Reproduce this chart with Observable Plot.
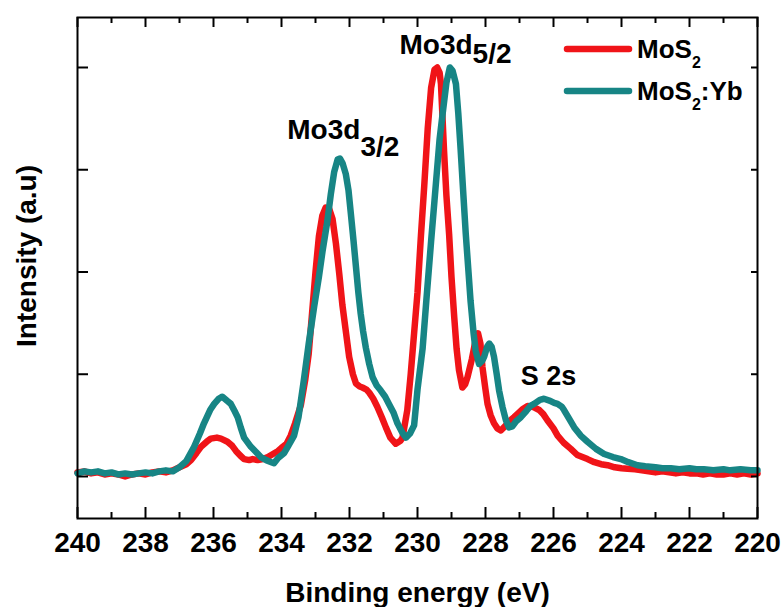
<!DOCTYPE html>
<html>
<head>
<meta charset="utf-8">
<script src="https://cdn.jsdelivr.net/npm/d3@7"></script>
<script src="https://cdn.jsdelivr.net/npm/@observablehq/plot@0.6"></script>
<style>
  html, body { margin: 0; padding: 0; background: #fff; }
  #chart { position: relative; width: 783px; height: 607px; }
  #legend { position: absolute; left: 0; top: 0; pointer-events: none; }
</style>
</head>
<body>
<div id="chart"></div>
<script>
// XPS survey around the Mo 3d / S 2s region
const seriesNames = ["MoS2", "MoS2:Yb"];
const seriesColors = ["#f01418", "#178585"];

const energyMoS2 = [
  240.0, 239.8, 239.6, 239.4, 239.2, 239.0, 238.8, 238.6, 238.4, 238.2, 238.0, 237.8, 237.6, 237.4, 237.2, 237.0,
  236.8, 236.66, 236.5, 236.37, 236.2, 236.08, 235.9, 235.78, 235.59, 235.45, 235.34, 235.2, 235.1, 234.95, 234.85,
  234.7, 234.55, 234.4, 234.25, 234.1, 234.0, 233.85, 233.73, 233.6, 233.43, 233.3, 233.2, 233.1, 233.0, 232.9,
  232.8, 232.7, 232.6, 232.5, 232.4, 232.3, 232.21, 232.1, 232.01, 231.9, 231.81, 231.7, 231.62, 231.5, 231.42,
  231.3, 231.18, 231.05, 230.93, 230.8, 230.64, 230.5, 230.44, 230.3, 230.2, 230.1, 230.0, 229.9, 229.8, 229.7,
  229.6, 229.5, 229.42, 229.35, 229.31, 229.22, 229.15, 229.07, 229.0, 228.92, 228.85, 228.78, 228.68, 228.6,
  228.53, 228.4, 228.3, 228.22, 228.15, 228.09, 228.0, 227.94, 227.85, 227.75, 227.65, 227.55, 227.4, 227.3,
  227.16, 227.0, 226.9, 226.76, 226.6, 226.42, 226.3, 226.18, 226.0, 225.88, 225.7, 225.49, 225.3, 225.0, 224.8,
  224.6, 224.41, 224.2, 224.0, 223.82, 223.6, 223.4, 223.2, 223.0, 222.8, 222.6, 222.4, 222.2, 222.0, 221.8,
  221.6, 221.4, 221.2, 221.0, 220.8, 220.6, 220.4, 220.2, 220.0
];
const intensityMoS2 = [
  0.04, 0.05, 0.03, 0.04, 0.02, 0.03, 0.02, 0.00, 0.02, 0.03, 0.02, 0.04, 0.05, 0.04, 0.06, 0.09,
  0.12, 0.16, 0.23, 0.29, 0.34, 0.37, 0.38, 0.37, 0.34, 0.30, 0.25, 0.20, 0.17, 0.16, 0.17,
  0.16, 0.17, 0.19, 0.22, 0.25, 0.28, 0.32, 0.40, 0.52, 0.70, 0.95, 1.20, 1.60, 2.00, 2.35,
  2.55, 2.63, 2.62, 2.52, 2.28, 1.98, 1.68, 1.40, 1.17, 1.00, 0.91, 0.88, 0.87, 0.85, 0.82,
  0.76, 0.68, 0.58, 0.48, 0.38, 0.32, 0.35, 0.38, 0.65, 1.00, 1.40, 1.80, 2.35, 2.85, 3.40,
  3.80, 3.98, 4.00, 3.95, 3.84, 3.19, 2.75, 2.37, 1.95, 1.56, 1.25, 1.04, 0.87, 0.90,
  0.97, 1.15, 1.32, 1.40, 1.30, 1.07, 0.85, 0.71, 0.60, 0.52, 0.47, 0.45, 0.50, 0.54,
  0.58, 0.63, 0.66, 0.69, 0.68, 0.65, 0.61, 0.55, 0.47, 0.40, 0.33, 0.27, 0.21, 0.17, 0.14,
  0.12, 0.11, 0.09, 0.08, 0.075, 0.07, 0.06, 0.05, 0.04, 0.05, 0.04, 0.03, 0.04, 0.03, 0.03,
  0.02, 0.03, 0.02, 0.02, 0.03, 0.02, 0.03, 0.02, 0.03
];

const energyMoS2Yb = [
  240.0, 239.8, 239.6, 239.4, 239.2, 239.0, 238.8, 238.6, 238.4, 238.2, 238.0, 237.8, 237.6, 237.4, 237.2, 237.0,
  236.8, 236.57, 236.4, 236.28, 236.1, 235.98, 235.85, 235.74, 235.6, 235.49, 235.38, 235.29, 235.2, 235.1, 234.9,
  234.75, 234.61, 234.45, 234.3, 234.22, 234.1, 233.92, 233.8, 233.63, 233.5, 233.34, 233.2, 233.04, 232.9,
  232.79, 232.65, 232.55, 232.45, 232.35, 232.28, 232.2, 232.11, 232.03, 231.96, 231.88, 231.81, 231.74, 231.67,
  231.6, 231.52, 231.42, 231.32, 231.2, 231.08, 230.95, 230.84, 230.7, 230.59, 230.45, 230.34, 230.22, 230.1,
  230.0, 229.85, 229.74, 229.6, 229.5, 229.35, 229.26, 229.15, 229.05, 228.97, 228.87, 228.8, 228.73, 228.65,
  228.58, 228.5, 228.44, 228.35, 228.29, 228.19, 228.1, 228.04, 227.95, 227.89, 227.82, 227.75, 227.67, 227.6,
  227.5, 227.4, 227.31, 227.21, 227.1, 226.96, 226.8, 226.68, 226.57, 226.4, 226.28, 226.1, 225.98, 225.88,
  225.75, 225.69, 225.55, 225.39, 225.2, 225.0, 224.75, 224.51, 224.25, 224.02, 223.8, 223.53, 223.3, 223.0,
  222.8, 222.55, 222.3, 222.0, 221.8, 221.58, 221.3, 221.0, 220.8, 220.5, 220.2, 220.0
];
const intensityMoS2Yb = [
  0.03, 0.05, 0.04, 0.05, 0.03, 0.04, 0.02, 0.03, 0.02, 0.03, 0.04, 0.03, 0.05, 0.06, 0.05, 0.09,
  0.15, 0.29, 0.42, 0.52, 0.65, 0.71, 0.76, 0.78, 0.74, 0.71, 0.64, 0.58, 0.48, 0.38, 0.29,
  0.24, 0.19, 0.16, 0.14, 0.13, 0.18, 0.23, 0.30, 0.40, 0.58, 0.95, 1.30, 1.66, 1.95,
  2.21, 2.50, 2.76, 2.98, 3.10, 3.11, 3.06, 2.96, 2.80, 2.57, 2.30, 2.05, 1.80, 1.59,
  1.42, 1.26, 1.10, 0.97, 0.89, 0.84, 0.78, 0.71, 0.62, 0.52, 0.43, 0.38, 0.42, 0.50,
  0.85, 1.25, 1.72, 2.30, 2.70, 3.30, 3.55, 3.85, 4.00, 3.97, 3.84, 3.55, 3.19, 2.75,
  2.37, 2.00, 1.72, 1.40, 1.23, 1.10, 1.13, 1.17, 1.27, 1.30, 1.27, 1.17, 1.00, 0.84,
  0.68, 0.55, 0.48, 0.49, 0.54, 0.58, 0.64, 0.69, 0.71, 0.75, 0.76, 0.74, 0.72, 0.71,
  0.68, 0.65, 0.57, 0.48, 0.40, 0.34, 0.27, 0.22, 0.19, 0.17, 0.14, 0.11, 0.10, 0.09,
  0.08, 0.08, 0.07, 0.08, 0.07, 0.07, 0.06, 0.07, 0.06, 0.07, 0.06, 0.06
];

// Axis ticks
const xMajorTicks = [240, 238, 236, 234, 232, 230, 228, 226, 224, 222, 220];
const xMinorTicks = [239, 237, 235, 233, 231, 229, 227, 225, 223, 221];
const yTicks = [0, 1, 2, 3, 4];

// Peak annotations
const peakNames = ["Mo3d", "Mo3d"];
const peakSubscripts = ["3/2", "5/2"];
const peakLabelEnergy = [231.68, 228.38];
const peakLabelLevel = [3.39, 4.215];
const sulfurLabel = "S 2s";
const sulfurLabelEnergy = 226.15;
const sulfurLabelLevel = 0.978;

const toRows = (xs, ys) => xs.map((e, i) => ({energy: e, intensity: ys[i]}));
const rowsMoS2 = toRows(energyMoS2, intensityMoS2);
const rowsMoS2Yb = toRows(energyMoS2Yb, intensityMoS2Yb);

const W = 783, Hh = 607;
const mL = 77, mR = 26, mT = 17, mB = 89;
const innerW = W - mL - mR;
const innerH = Hh - mT - mB;
const font = "'Liberation Sans', Arial, sans-serif";

const peakRows = peakNames.map((n, i) => ({name: n, sub: peakSubscripts[i], energy: peakLabelEnergy[i], level: peakLabelLevel[i]}));

const chart = Plot.plot({
  width: W,
  height: Hh,
  marginLeft: mL,
  marginRight: mR,
  marginTop: mT,
  marginBottom: mB,
  style: {fontFamily: font, fontWeight: "bold", color: "black", background: "white", overflow: "visible"},
  x: {domain: [240, 220]},
  y: {domain: [-0.411, 4.489], axis: null},
  marks: [
    Plot.line(rowsMoS2, {x: "energy", y: "intensity", stroke: seriesColors[0], strokeWidth: 6.5, strokeLinejoin: "round", strokeLinecap: "round"}),
    Plot.line(rowsMoS2Yb, {x: "energy", y: "intensity", stroke: seriesColors[1], strokeWidth: 6.5, strokeLinejoin: "round", strokeLinecap: "round"}),
    // inward ticks on all four sides
    Plot.tickX(xMajorTicks, {x: d => d, insetTop: innerH - 11, stroke: "black", strokeWidth: 2}),
    Plot.tickX(xMinorTicks, {x: d => d, insetTop: innerH - 6, stroke: "black", strokeWidth: 2}),
    Plot.tickX(xMajorTicks, {x: d => d, insetBottom: innerH - 10, stroke: "black", strokeWidth: 2}),
    Plot.tickX(xMinorTicks, {x: d => d, insetBottom: innerH - 6, stroke: "black", strokeWidth: 2}),
    Plot.tickY(yTicks, {y: d => d, insetRight: innerW - 11, stroke: "black", strokeWidth: 2}),
    Plot.tickY(yTicks, {y: d => d, insetLeft: innerW - 6, stroke: "black", strokeWidth: 2}),
    Plot.frame({stroke: "black", strokeWidth: 2}),
    Plot.axisX(xMajorTicks, {anchor: "bottom", tickSize: 0, tickPadding: 14, fontSize: 28, fontWeight: "bold", label: null}),
    // axis titles
    Plot.text(["Binding energy (eV)"], {frameAnchor: "bottom", dy: 75, fontSize: 28, fontWeight: "bold", textAnchor: "middle", lineAnchor: "middle"}),
    Plot.text(["Intensity (a.u)"], {frameAnchor: "left", rotate: -90, dx: -50, dy: -12, fontSize: 28, fontWeight: "bold", textAnchor: "middle", lineAnchor: "middle"}),
    // peak labels with subscripts
    Plot.text(peakRows, {x: "energy", y: "level", text: "name", textAnchor: "end", lineAnchor: "middle", fontSize: 28, fontWeight: "bold"}),
    Plot.text(peakRows.slice(0, 1), {x: "energy", y: "level", text: "sub", textAnchor: "start", lineAnchor: "middle", dy: 17, fontSize: 28, fontWeight: "bold"}),
    Plot.text(peakRows.slice(1), {x: "energy", y: "level", text: "sub", textAnchor: "start", lineAnchor: "middle", dy: 9, fontSize: 28, fontWeight: "bold"}),
    Plot.text([sulfurLabel], {x: () => sulfurLabelEnergy, y: () => sulfurLabelLevel, textAnchor: "middle", lineAnchor: "middle", fontSize: 27, fontWeight: "bold"})
  ]
});

const host = document.getElementById("chart");
host.appendChild(chart);

// legend in the upper right of the frame
const ns = "http://www.w3.org/2000/svg";
const leg = document.createElementNS(ns, "svg");
leg.setAttribute("id", "legend");
leg.setAttribute("width", W);
leg.setAttribute("height", 130);
leg.style.fontFamily = font;
leg.style.fontWeight = "bold";
const rowsY = [49, 91];
seriesNames.forEach((name, i) => {
  const y = rowsY[i];
  const ln = document.createElementNS(ns, "line");
  ln.setAttribute("x1", 567); ln.setAttribute("x2", 629);
  ln.setAttribute("y1", y); ln.setAttribute("y2", y);
  ln.setAttribute("stroke", seriesColors[i]);
  ln.setAttribute("stroke-width", 6.5);
  ln.setAttribute("stroke-linecap", "round");
  leg.appendChild(ln);
  const t = document.createElementNS(ns, "text");
  t.setAttribute("x", 637);
  t.setAttribute("y", y + 9);
  t.setAttribute("font-size", 26);
  const m = name.match(/^(MoS)(2)(.*)$/);
  const a = document.createElementNS(ns, "tspan"); a.textContent = m[1];
  const b = document.createElementNS(ns, "tspan"); b.textContent = m[2];
  b.setAttribute("font-size", 16); b.setAttribute("dy", 10);
  t.appendChild(a); t.appendChild(b);
  if (m[3]) {
    const c = document.createElementNS(ns, "tspan"); c.textContent = m[3];
    c.setAttribute("dy", -10);
    t.appendChild(c);
  }
  leg.appendChild(t);
});
host.appendChild(leg);
</script>
</body>
</html>
